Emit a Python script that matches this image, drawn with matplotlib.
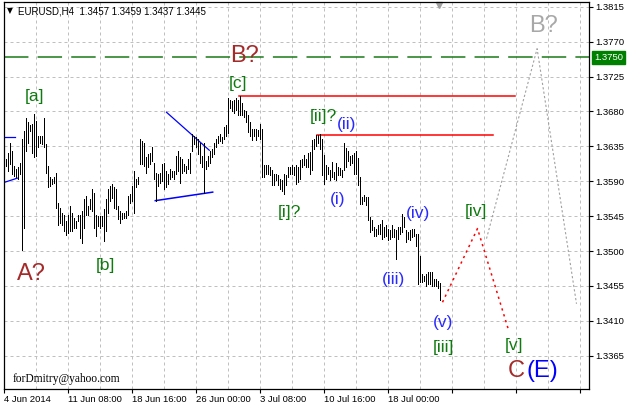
import matplotlib.pyplot as plt
import matplotlib.transforms as mtransforms

# EURUSD H4 bars (high / low), first bar after 4 Jun 2014 00:00
highs = [
    1.3619, 1.3627, 1.3640, 1.3629, 1.3610, 1.3606, 1.3608, 1.3614, 1.3645, 1.3655,
    1.3671, 1.3666, 1.3662, 1.3664, 1.3677, 1.3668, 1.3649, 1.3648, 1.3649, 1.3671,
    1.3638, 1.3610, 1.3595, 1.3593, 1.3595, 1.3601, 1.3562, 1.3556, 1.3549, 1.3547,
    1.3539, 1.3547, 1.3558, 1.3549, 1.3543, 1.3539, 1.3547, 1.3547, 1.3552, 1.3567,
    1.3571, 1.3558, 1.3567, 1.3580, 1.3575, 1.3547, 1.3545, 1.3545, 1.3545, 1.3554,
    1.3567, 1.3580, 1.3584, 1.3586, 1.3582,
    1.3580, 1.3558, 1.3552, 1.3549, 1.3549, 1.3552, 1.3571, 1.3573, 1.3584, 1.3603,
    1.3593, 1.3595, 1.3645, 1.3642, 1.3640, 1.3621, 1.3625, 1.3627, 1.3634, 1.3614,
    1.3601, 1.3599, 1.3601, 1.3612, 1.3614, 1.3603, 1.3599, 1.3606, 1.3603, 1.3603,
    1.3623, 1.3629, 1.3621, 1.3619, 1.3612, 1.3610, 1.3619, 1.3627, 1.3651, 1.3649,
    1.3647, 1.3645, 1.3640, 1.3623, 1.3640, 1.3616, 1.3623, 1.3629, 1.3632, 1.3640,
    1.3645, 1.3649, 1.3651, 1.3647, 1.3660,
    1.3663, 1.3697, 1.3695, 1.3694, 1.3695, 1.3697, 1.3695, 1.3700, 1.3691, 1.3682,
    1.3680, 1.3676, 1.3667, 1.3658, 1.3658, 1.3658, 1.3656, 1.3664, 1.3658, 1.3611,
    1.3611, 1.3611, 1.3609, 1.3604, 1.3600, 1.3600, 1.3598, 1.3593, 1.3591, 1.3600,
    1.3598, 1.3609, 1.3609, 1.3611, 1.3609, 1.3611, 1.3609, 1.3617, 1.3619, 1.3624,
    1.3619, 1.3626, 1.3628, 1.3643, 1.3645, 1.3650, 1.3650, 1.3651, 1.3645, 1.3624,
    1.3611, 1.3609, 1.3604, 1.3615, 1.3602,
    1.3613, 1.3609, 1.3607, 1.3605, 1.3639, 1.3633, 1.3629, 1.3622, 1.3624, 1.3626,
    1.3629, 1.3620, 1.3596, 1.3570, 1.3572, 1.3570, 1.3570, 1.3544, 1.3540, 1.3531,
    1.3529, 1.3533, 1.3535, 1.3540, 1.3531, 1.3533, 1.3529, 1.3527, 1.3533, 1.3529,
    1.3527, 1.3531, 1.3531, 1.3548, 1.3544, 1.3527, 1.3525, 1.3527, 1.3529, 1.3529,
    1.3522, 1.3522, 1.3494, 1.3470, 1.3468, 1.3470, 1.3473, 1.3473, 1.3473, 1.3464,
    1.3464, 1.3462, 1.3459,
]
lows = [
    1.3610, 1.3603, 1.3612, 1.3599, 1.3597, 1.3595, 1.3593, 1.3599, 1.3502, 1.3530,
    1.3629, 1.3640, 1.3655, 1.3627, 1.3621, 1.3623, 1.3634, 1.3640, 1.3638, 1.3634,
    1.3601, 1.3582, 1.3584, 1.3586, 1.3588, 1.3556, 1.3534, 1.3536, 1.3534, 1.3526,
    1.3521, 1.3523, 1.3526, 1.3526, 1.3530, 1.3530, 1.3539, 1.3517, 1.3511, 1.3530,
    1.3547, 1.3547, 1.3554, 1.3552, 1.3530, 1.3520, 1.3532, 1.3530, 1.3532, 1.3513,
    1.3526, 1.3549, 1.3565, 1.3569, 1.3556,
    1.3554, 1.3541, 1.3536, 1.3541, 1.3543, 1.3543, 1.3547, 1.3562, 1.3565, 1.3549,
    1.3582, 1.3586, 1.3612, 1.3612, 1.3610, 1.3601, 1.3608, 1.3612, 1.3616, 1.3593,
    1.3565, 1.3584, 1.3588, 1.3590, 1.3580, 1.3582, 1.3586, 1.3593, 1.3595, 1.3593,
    1.3599, 1.3603, 1.3588, 1.3601, 1.3603, 1.3601, 1.3606, 1.3601, 1.3629, 1.3638,
    1.3634, 1.3625, 1.3614, 1.3608, 1.3575, 1.3606, 1.3610, 1.3614, 1.3621, 1.3625,
    1.3634, 1.3640, 1.3642, 1.3640, 1.3645,
    1.3648, 1.3652, 1.3684, 1.3680, 1.3678, 1.3682, 1.3676, 1.3676, 1.3676, 1.3673,
    1.3667, 1.3654, 1.3648, 1.3643, 1.3648, 1.3643, 1.3648, 1.3645, 1.3596, 1.3596,
    1.3600, 1.3600, 1.3598, 1.3585, 1.3585, 1.3591, 1.3585, 1.3580, 1.3578, 1.3574,
    1.3585, 1.3596, 1.3600, 1.3600, 1.3598, 1.3587, 1.3589, 1.3593, 1.3609, 1.3611,
    1.3609, 1.3609, 1.3600, 1.3604, 1.3632, 1.3635, 1.3639, 1.3632, 1.3598, 1.3587,
    1.3593, 1.3600, 1.3591, 1.3596, 1.3593,
    1.3592, 1.3598, 1.3598, 1.3596, 1.3605, 1.3609, 1.3616, 1.3611, 1.3613, 1.3600,
    1.3600, 1.3585, 1.3561, 1.3561, 1.3564, 1.3559, 1.3540, 1.3525, 1.3527, 1.3520,
    1.3520, 1.3522, 1.3522, 1.3516, 1.3518, 1.3520, 1.3514, 1.3516, 1.3518, 1.3518,
    1.3490, 1.3516, 1.3522, 1.3525, 1.3531, 1.3512, 1.3516, 1.3514, 1.3518, 1.3520,
    1.3507, 1.3457, 1.3460, 1.3460, 1.3462, 1.3455, 1.3457, 1.3457, 1.3455, 1.3455,
    1.3455, 1.3453, 1.3437,
]
bar_index = list(range(1, len(highs) + 1))

price_ticks = [1.3365, 1.3410, 1.3455, 1.3500, 1.3545, 1.3590, 1.3635, 1.3680, 1.3725, 1.3770, 1.3815]
time_ticks = [0, 32, 64, 96, 128, 160, 192, 224, 256, 288]
time_labels = ['4 Jun 2014', '11 Jun 08:00', '18 Jun 16:00', '26 Jun 00:00',
               '3 Jul 08:00', '10 Jul 16:00', '18 Jul 00:00', '', '', '']
level_price = 1.3750

# wave forecast paths (bar, price)
red_path_x = [219.5, 237.0, 252.3]
red_path_y = [1.3434, 1.3529, 1.3400]
grey_path_x = [241.5, 266.8, 286.5]
grey_path_y = [1.3516, 1.3761, 1.3432]

# wave labels: text, bar, price, colour, size
GREEN = '#0f7a0f'
BLUE = '#2a2aff'
BROWN = '#a52a2a'
labels = [
    ('[a]', 15.7, 1.3699, GREEN, 12.5),
    ('A?', 14.0, 1.3471, BROWN, 17),
    ('[b]', 51.2, 1.3482, GREEN, 12.5),
    ('[c]', 117.5, 1.3716, GREEN, 12.5),
    ('B?', 120.7, 1.3752, BROWN, 17),
    ('[ii]?', 159.7, 1.3674, GREEN, 12.5),
    ('(ii)', 171.7, 1.3663, BLUE, 12.5),
    ('[i]?', 143.0, 1.3550, GREEN, 12.5),
    ('(i)', 167.2, 1.3567, BLUE, 12.5),
    ('(iii)', 195.0, 1.3463, BLUE, 12.5),
    ('(iv)', 207.2, 1.3548, BLUE, 12.5),
    ('(v)', 220.0, 1.3408, BLUE, 12.5),
    ('[iii]', 220.0, 1.3375, GREEN, 12.5),
    ('[iv]', 236.2, 1.3551, GREEN, 12.5),
    ('[v]', 255.0, 1.3378, GREEN, 12.5),
    ('C', 256.2, 1.3345, BROWN, 17),
    ('(E)', 269.5, 1.3345, '#0000ff', 17),
    ('B?', 270.2, 1.3790, '#a8a8a8', 17),
]

W, H = 627, 407
fig = plt.figure(figsize=(W / 100, H / 100), dpi=100)
fig.patch.set_facecolor('white')
L, R, T, B = 3.5, 589, 2, 389
ax = fig.add_axes([L / W, (H - B) / H, (R - L) / W, (B - T) / H])
ax.set_xlim(0, (R - L) / 2)
ax.set_ylim(1.33221, 1.38212)

# grid
for gx in range(0, 293, 16):
    ax.axvline(gx, color='#c0c0c0', lw=0.72, ls=(0, (3, 3)), zorder=0)
for gy in price_ticks:
    ax.axhline(gy, color='#c0c0c0', lw=0.72, ls=(0, (3, 3)), zorder=0)

# bars
ax.vlines(bar_index, lows, highs, color='black', lw=0.5, antialiased=False, zorder=3)

# trend lines
ax.plot([-0.3, 5.7], [1.3647, 1.3647], color='blue', lw=0.9, zorder=2)
ax.plot([-0.3, 6.9], [1.3588, 1.3594], color='blue', lw=0.9, zorder=2)
ax.plot([81.5, 102.9], [1.3679, 1.3630], color='blue', lw=0.9, zorder=2)
ax.plot([75.9, 104.6], [1.3565, 1.3576], color='blue', lw=1.1, zorder=2)
ax.plot([117.8, 255.7], [1.3700, 1.3700], color='red', lw=1.1, zorder=2)
ax.plot([156.8, 244.5], [1.3650, 1.3650], color='red', lw=1.1, zorder=2)
ax.axhline(level_price, color='#1a7a1a', lw=1.1, ls=(0, (16, 6)), zorder=2)

ax.plot(red_path_x, red_path_y, color='red', lw=1.1, ls=(0, (1.5, 2.5)), zorder=2)
ax.plot(grey_path_x, grey_path_y, color='#a0a0a0', lw=0.8, ls=(0, (2, 2)), zorder=2)

for txt, bx, py, col, fs in labels:
    ax.text(bx, py, txt, color=col, fontsize=fs, ha='center', va='center',
            family=['Liberation Sans', 'DejaVu Sans'], zorder=4)

# axes styling
for s in ax.spines.values():
    s.set_color('black')
    s.set_linewidth(0.9)
ax.yaxis.tick_right()
ax.set_yticks(price_ticks)
ax.set_yticklabels(['%.4f' % p for p in price_ticks], fontsize=6.8,
                   family='Liberation Sans')
ax.set_xticks(time_ticks)
ax.set_xticklabels(time_labels, fontsize=6.8, family='Liberation Sans', ha='left')
ax.tick_params(axis='y', length=3, width=0.8, pad=1.5)
ax.tick_params(axis='x', length=3, width=0.8, pad=1)

# current level box
trans = mtransforms.blended_transform_factory(fig.transFigure, ax.transData)
fig.text(594 / W, level_price, '%.4f' % level_price, transform=trans, fontsize=6.8,
         family='Liberation Sans', color='white', ha='left', va='center',
         bbox=dict(boxstyle='square,pad=0.2', fc='#008000', ec='#008000'))

# header, shift marker, signature
fig.text(7 / W, 1 - 11 / H, '\u25bc', fontsize=5.5, family='DejaVu Sans', va='center')
fig.text(18 / W, 1 - 11 / H, 'EURUSD,H4  1.3457 1.3459 1.3437 1.3445', fontsize=7,
         family='Liberation Sans', va='center')
tshift = mtransforms.blended_transform_factory(ax.transData, ax.transAxes)
ax.plot([217.5], [0.992], marker='v', ms=4, color='#a0a0a0', transform=tshift, clip_on=False)
fig.text(13 / W, 1 - 379 / H, 'forDmitry@yahoo.com', fontsize=8.3,
         family='Liberation Serif', va='center')

fig.savefig('out.png', dpi=100, facecolor='white')
